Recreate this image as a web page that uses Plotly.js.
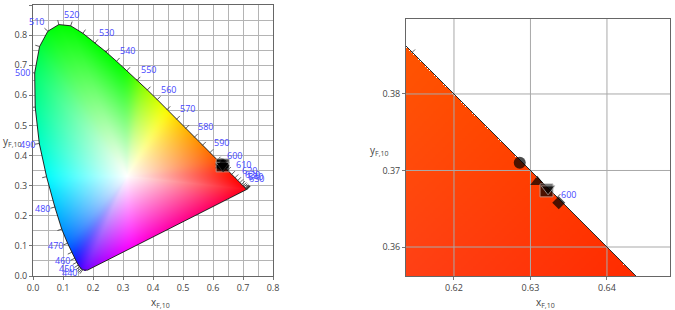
<!DOCTYPE html>
<html>
<head>
<meta charset="utf-8">
<script src="https://cdn.plot.ly/plotly-3.0.1.min.js"></script>
<style>html,body{margin:0;padding:0;background:#fff;}#chart{width:675px;height:310px;}</style>
</head>
<body>
<div id="chart"></div>
<script>
// Spectral locus (CIE 1964 10°), 5 nm steps
const wavelengths = [380,385,390,395,400,405,410,415,420,425,430,435,440,445,450,455,460,465,470,475,480,485,490,495,500,505,510,515,520,525,530,535,540,545,550,555,560,565,570,575,580,585,590,595,600,605,610,615,620,625,630,635,640,645,650,655,660,665,670,675,680,685,690,695,700];
const locusX = [0.1814,0.1809,0.1803,0.1795,0.1784,0.1771,0.1755,0.1732,0.1706,0.1679,0.1650,0.1622,0.1590,0.1554,0.1510,0.1459,0.1389,0.1295,0.1152,0.0957,0.0728,0.0452,0.0210,0.0073,0.0056,0.0219,0.0495,0.0860,0.1255,0.1664,0.2071,0.2436,0.2786,0.3132,0.3473,0.3812,0.4142,0.4469,0.4790,0.5096,0.5386,0.5654,0.5900,0.6145,0.6335,0.6490,0.6625,0.6735,0.6827,0.6898,0.6955,0.7003,0.7040,0.7070,0.7090,0.7103,0.7111,0.7116,0.7119,0.7121,0.7123,0.7124,0.7125,0.7125,0.7125];
const locusY = [0.0193,0.0193,0.0193,0.0190,0.0187,0.0184,0.0181,0.0178,0.0178,0.0187,0.0203,0.0225,0.0257,0.0303,0.0364,0.0455,0.0589,0.0790,0.1090,0.1560,0.2292,0.3300,0.4401,0.5610,0.6745,0.7620,0.8130,0.8350,0.8310,0.8060,0.7740,0.7440,0.7130,0.6820,0.6505,0.6180,0.5858,0.5529,0.5210,0.4904,0.4614,0.4346,0.4100,0.3854,0.3665,0.3510,0.3375,0.3265,0.3173,0.3102,0.3045,0.2997,0.2960,0.2930,0.2910,0.2897,0.2889,0.2884,0.2881,0.2879,0.2877,0.2876,0.2875,0.2875,0.2875];
const labelWavelengths = [440,450,460,470,480,490,500,510,520,530,540,550,560,570,580,590,600,610,620,630,640,650];
const tickRange = [430, 700];
const whitePoint = [0.3138, 0.3310];

// Sample chromaticities (markers)
const sampleX = [0.6286, 0.6309, 0.6321, 0.6323, 0.6337];
const sampleY = [0.3710, 0.3685, 0.3674, 0.3676, 0.3658];
const sampleSymbols = ['circle', 'triangle-up', 'square', 'triangle-down', 'diamond'];
const sampleSizes = [12, 12.5, 13, 12, 10];
const sampleOutline = ['rgba(0,0,0,0)', 'rgba(0,0,0,0)', '#b0b0b0', '#b0b0b0', 'rgba(0,0,0,0)'];

// Axes
const xTickVals1 = [0,0.1,0.2,0.3,0.4,0.5,0.6,0.7,0.8];
const xTickText1 = ['0.0','0.1','0.2','0.3','0.4','0.5','0.6','0.7','0.8'];
const yTickVals1 = [0,0.1,0.2,0.3,0.4,0.5,0.6,0.7,0.8,0.9];
const yTickText1 = ['0.0','0.1','0.2','0.3','0.4','0.5','0.6','0.7','0.8','0.9'];
const xRange1 = [0, 0.8], yRange1 = [0, 0.9];
const xTickVals2 = [0.62, 0.63, 0.64];
const xTickText2 = ['0.62','0.63','0.64'];
const yTickVals2 = [0.36, 0.37, 0.38];
const yTickText2 = ['0.36','0.37','0.38'];
const xRange2 = [0.61373, 0.64824], yRange2 = [0.35621, 0.38980];

const W = 675, H = 310;
const dom1x = [33/W, 273/W], dom1y = [(H-276)/H, (H-5)/H];
const dom2x = [406/W, 670/W], dom2y = [(H-276)/H, (H-19)/H];
const ppu1 = (dom1x[1]-dom1x[0])*W/(xRange1[1]-xRange1[0]);
const ppu2 = (dom2x[1]-dom2x[0])*W/(xRange2[1]-xRange2[0]);

function clipRGB(x, y) {
  const X = x / y, Y = 1, Z = (1 - x - y) / y;
  let r = 3.2406*X - 1.5372*Y - 0.4986*Z;
  let g = -0.9689*X + 1.8758*Y + 0.0415*Z;
  let b = 0.0557*X - 0.2040*Y + 1.0570*Z;
  r = Math.max(r, 0); g = Math.max(g, 0); b = Math.max(b, 0);
  const m = Math.max(r, g, b) || 1;
  const gam = v => { v /= m; v = v <= 0.0031308 ? 12.92*v : 1.055*Math.pow(v, 1/2.4) - 0.055; return 255*Math.min(1, Math.max(0, v)); };
  return [gam(r), gam(g), gam(b)];
}
// Boundary table: for each direction from the white point, distance to locus and colour there
const NB = 7200;
const boundR = new Float64Array(NB);
let boundC = [];
(function buildBoundary() {
  const n = locusX.length;
  for (let k = 0; k < NB; k++) {
    const th = -Math.PI + (k + 0.5) * 2 * Math.PI / NB;
    const ux = Math.cos(th), uy = Math.sin(th);
    let best = Infinity;
    for (let i = 0; i < n; i++) {
      const j = (i + 1) % n;
      const ax = locusX[i] - whitePoint[0], ay = locusY[i] - whitePoint[1];
      const ex = locusX[j] - locusX[i], ey = locusY[j] - locusY[i];
      const den = ux * ey - uy * ex;
      if (Math.abs(den) < 1e-14) continue;
      const t = (ax * ey - ay * ex) / den;
      const s = (ax * uy - ay * ux) / den;
      if (t > 0 && s >= -1e-9 && s <= 1 + 1e-9 && t < best) best = t;
    }
    boundR[k] = best;
    const f = 0.995 * best;
    boundC.push(clipRGB(whitePoint[0] + ux * f, whitePoint[1] + uy * f));
  }
  // soften creases: circular box blur over angle, applied twice
  const hw = 90;
  for (let pass = 0; pass < 2; pass++) {
    const out = [];
    for (let k = 0; k < NB; k++) {
      let s0 = 0, s1 = 0, s2 = 0;
      for (let d = -hw; d <= hw; d++) {
        const c = boundC[(k + d + NB) % NB];
        s0 += c[0]; s1 += c[1]; s2 += c[2];
      }
      const cnt = 2 * hw + 1;
      out.push([s0/cnt, s1/cnt, s2/cnt]);
    }
    boundC = out;
  }
})();
function shade(x, y) {
  const dx = x - whitePoint[0], dy = y - whitePoint[1];
  const r = Math.hypot(dx, dy);
  let k = Math.floor((Math.atan2(dy, dx) + Math.PI) / (2 * Math.PI) * NB);
  if (k >= NB) k = NB - 1; if (k < 0) k = 0;
  const R = boundR[k];
  if (!(r <= R)) return null;
  const t = r / R, c = boundC[k];
  return [Math.round(255 + (c[0]-255)*t), Math.round(255 + (c[1]-255)*t), Math.round(255 + (c[2]-255)*t), 1];
}
function gamutImage(xr, yr, nx, ny, xa, ya) {
  const dx = (xr[1]-xr[0])/nx, dy = (yr[1]-yr[0])/ny;
  const z = [];
  for (let j = 0; j < ny; j++) {
    const y = yr[0] + (j+0.5)*dy, row = [];
    for (let i = 0; i < nx; i++) {
      const x = xr[0] + (i+0.5)*dx;
      const c = shade(x, y);
      row.push(c ? c : [255,255,255,0]);
    }
    z.push(row);
  }
  return {type:'image', z:z, colormodel:'rgba', x0:xr[0]+dx/2, y0:yr[0]+dy/2, dx:dx, dy:dy, xaxis:xa, yaxis:ya, hoverinfo:'skip'};
}
function normalAt(i) {
  const n = locusX.length;
  let a = i, b = i, tx = 0, ty = 0;
  for (let k = 1; k < 8 && Math.hypot(tx, ty) < 1e-6; k++) {
    a = Math.max(i-k, 0); b = Math.min(i+k, n-1);
    tx = locusX[b]-locusX[a]; ty = locusY[b]-locusY[a];
  }
  const L = Math.hypot(tx, ty) || 1;
  return [-ty/L, tx/L];
}
function outlineTrace(xa, ya) {
  return {type:'scatter', mode:'lines', x:locusX.concat([locusX[0]]), y:locusY.concat([locusY[0]]),
    line:{color:'#262626', width:1}, xaxis:xa, yaxis:ya, hoverinfo:'skip'};
}
function tickTrace(ppu, xa, ya) {
  const xs = [], ys = [];
  wavelengths.forEach((w, i) => {
    if (w < tickRange[0] || w > tickRange[1]) return;
    const nrm = normalAt(i);
    const l0 = -0.5/ppu, l1 = 4.5/ppu;
    xs.push(locusX[i]+nrm[0]*l0, locusX[i]+nrm[0]*l1, null);
    ys.push(locusY[i]+nrm[1]*l0, locusY[i]+nrm[1]*l1, null);
  });
  return {type:'scatter', mode:'lines', x:xs, y:ys, line:{color:'#333', width:0.8}, xaxis:xa, yaxis:ya, hoverinfo:'skip'};
}
function markerTrace(xa, ya) {
  return {type:'scatter', mode:'markers', x:sampleX, y:sampleY, xaxis:xa, yaxis:ya, hoverinfo:'skip',
    marker:{symbol:sampleSymbols, size:sampleSizes, color:'#000', line:{color:sampleOutline, width:1}}};
}
function gridTrace(xa, ya) {
  const xs = [], ys = [];
  xTickVals2.forEach(v => { xs.push(v, v, null); ys.push(yRange2[0], yRange2[1], null); });
  yTickVals2.forEach(v => { xs.push(xRange2[0], xRange2[1], null); ys.push(v, v, null); });
  return {type:'scatter', mode:'lines', x:xs, y:ys, line:{color:'#a9a9a9', width:1}, xaxis:xa, yaxis:ya, hoverinfo:'skip'};
}
function labelAnnotations(xr, yr, xref, yref, extraY) {
  const out = [];
  labelWavelengths.forEach(w => {
    const i = wavelengths.indexOf(w);
    const x = locusX[i], y = locusY[i];
    if (x < xr[0] || x > xr[1] || y < yr[0] || y > yr[1]) return;
    const nrm = normalAt(i);
    const ya = nrm[1] > 0.6 ? 'bottom' : (nrm[1] < -0.8 ? 'top' : 'middle');
    out.push({xref:xref, yref:yref, x:x, y:y, text:String(w), showarrow:false,
      xanchor: nrm[0] > 0.38 ? 'left' : (nrm[0] < -0.38 ? 'right' : 'center'),
      yanchor: ya,
      xshift: nrm[0]*2.5, yshift: nrm[1]*(ya === 'middle' ? 6 : 2.5) + extraY,
      font:{family:'Open Sans, sans-serif', size:9, color:'#4646ff'}});
  });
  return out;
}

const tickFont = {family:'Open Sans, sans-serif', size:9, color:'#444'};
const titleFont = {family:'Open Sans, sans-serif', size:10, color:'#444'};
const axisCommon = {ticks:'outside', ticklen:3, tickcolor:'#777', showline:true, linecolor:'#666', linewidth:1, mirror:true,
  zeroline:false, tickfont:tickFont, autorange:false, fixedrange:true, tickmode:'array'};

const data = [
  gamutImage(xRange1, yRange1, 240, 271, 'x', 'y'),
  outlineTrace('x', 'y'),
  tickTrace(ppu1, 'x', 'y'),
  markerTrace('x', 'y'),
  gamutImage(xRange2, yRange2, 264, 257, 'x2', 'y2'),
  gridTrace('x2', 'y2'),
  outlineTrace('x2', 'y2'),
  tickTrace(ppu2, 'x2', 'y2'),
  markerTrace('x2', 'y2')
];

const layout = {
  width: W, height: H, margin:{l:0, r:0, t:0, b:0}, showlegend:false,
  paper_bgcolor:'#fff', plot_bgcolor:'#fff',
  xaxis: Object.assign({}, axisCommon, {domain:dom1x, range:xRange1, tickvals:xTickVals1, ticktext:xTickText1, anchor:'y',
    showgrid:true, gridcolor:'#b4b4b4', gridwidth:1, minor:{dtick:0.05, tick0:0, showgrid:true, gridcolor:'#b4b4b4', gridwidth:1}}),
  yaxis: Object.assign({}, axisCommon, {domain:dom1y, range:yRange1, tickvals:yTickVals1, ticktext:yTickText1, anchor:'x', scaleanchor:false,
    showgrid:true, gridcolor:'#b4b4b4', gridwidth:1, minor:{dtick:0.05, tick0:0, showgrid:true, gridcolor:'#b4b4b4', gridwidth:1}}),
  xaxis2: Object.assign({}, axisCommon, {domain:dom2x, range:xRange2, tickvals:xTickVals2, ticktext:xTickText2, anchor:'y2', showgrid:false}),
  yaxis2: Object.assign({}, axisCommon, {domain:dom2y, range:yRange2, tickvals:yTickVals2, ticktext:yTickText2, anchor:'x2', scaleanchor:false, showgrid:false}),
  annotations: labelAnnotations(xRange1, yRange1, 'x', 'y', 0)
    .concat(labelAnnotations(xRange2, yRange2, 'x2', 'y2', -8))
    .concat([
      {xref:'paper', yref:'paper', x:1/W, y:(H-141)/H, xanchor:'left', yanchor:'middle', showarrow:false, text:'y<sub>F,10</sub>', font:titleFont},
      {xref:'paper', yref:'paper', x:160/W, y:(H-302)/H, xanchor:'center', yanchor:'middle', showarrow:false, text:'x<sub>F,10</sub>', font:titleFont},
      {xref:'paper', yref:'paper', x:368/W, y:(H-150)/H, xanchor:'left', yanchor:'middle', showarrow:false, text:'y<sub>F,10</sub>', font:titleFont},
      {xref:'paper', yref:'paper', x:545/W, y:(H-302)/H, xanchor:'center', yanchor:'middle', showarrow:false, text:'x<sub>F,10</sub>', font:titleFont}
    ])
};

Plotly.newPlot('chart', data, layout, {displayModeBar:false, staticPlot:true});
</script>
</body>
</html>
